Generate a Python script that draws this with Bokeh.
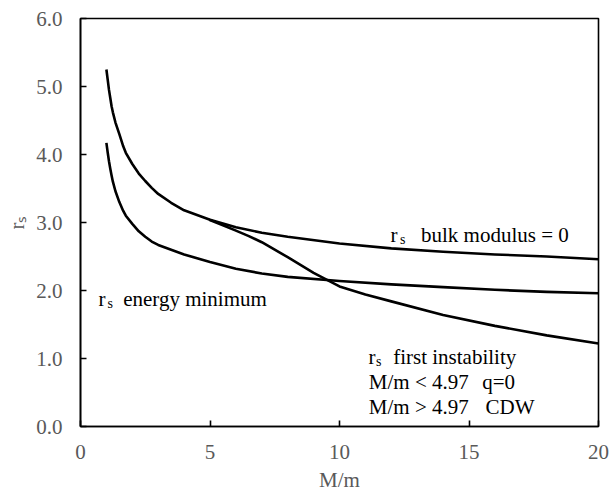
from bokeh.plotting import figure
from bokeh.models import Label, FixedTicker, PrintfTickFormatter, Range1d
from bokeh.embed import file_html
from bokeh.resources import INLINE

# ---- data ----
x_bulk = [1, 1.05, 1.1, 1.15, 1.2, 1.25, 1.35, 1.5, 1.65, 1.75, 2, 2.25, 2.5, 2.75, 3, 3.5, 4, 5, 6, 7, 8, 10, 12, 14, 16, 18, 20]
rs_bulk = [5.25, 5.10, 4.95, 4.83, 4.71, 4.62, 4.47, 4.30, 4.12, 4.025, 3.86, 3.72, 3.61, 3.51, 3.42, 3.29, 3.18, 3.04, 2.93, 2.85, 2.79, 2.69, 2.62, 2.57, 2.53, 2.50, 2.46]

x_emin = [1, 1.05, 1.1, 1.15, 1.2, 1.25, 1.35, 1.5, 1.65, 1.75, 2, 2.25, 2.5, 2.75, 3, 3.5, 4, 5, 6, 7, 8, 10, 12, 14, 16, 18, 20]
rs_emin = [4.17, 4.03, 3.90, 3.79, 3.69, 3.60, 3.46, 3.30, 3.17, 3.10, 2.98, 2.87, 2.79, 2.72, 2.67, 2.60, 2.53, 2.42, 2.32, 2.25, 2.20, 2.14, 2.09, 2.05, 2.01, 1.98, 1.96]

x_inst = [4.97, 5.5, 6, 6.5, 7, 8, 9, 10, 11, 12, 14, 16, 18, 20]
rs_inst = [3.04, 2.96, 2.88, 2.80, 2.71, 2.49, 2.26, 2.06, 1.94, 1.84, 1.64, 1.48, 1.34, 1.22]

x_ticks = [0, 5, 10, 15, 20]
y_ticks = [0, 1, 2, 3, 4, 5, 6]

FONT = "Liberation Serif"
GRAY = "#595959"

p = figure(width=613, height=494, output_backend="svg", toolbar_location=None,
           x_range=Range1d(0, 20), y_range=Range1d(0, 6),
           min_border_left=80, min_border_right=15, min_border_top=18, min_border_bottom=68)
p.xgrid.visible = False
p.ygrid.visible = False
p.outline_line_color = "black"
p.outline_line_width = 1.6
p.background_fill_color = "white"
p.border_fill_color = "white"

for ax in (p.xaxis[0], p.yaxis[0]):
    ax.axis_line_color = "black"
    ax.axis_line_width = 1.6
    ax.major_tick_line_color = "black"
    ax.major_tick_line_width = 1.6
    ax.major_tick_in = 6
    ax.major_tick_out = 0
    ax.minor_tick_line_color = None
    ax.major_label_text_font = FONT
    ax.major_label_text_font_size = "21px"
    ax.major_label_text_color = GRAY
    ax.axis_label_text_font = FONT
    ax.axis_label_text_font_size = "21px"
    ax.axis_label_text_font_style = "normal"
    ax.axis_label_text_color = GRAY

p.xaxis[0].ticker = FixedTicker(ticks=x_ticks)
p.yaxis[0].ticker = FixedTicker(ticks=y_ticks)
p.yaxis[0].formatter = PrintfTickFormatter(format="%.1f")
p.xaxis[0].major_label_standoff = 18
p.yaxis[0].major_label_standoff = 18
p.xaxis[0].axis_label = "M/m"
p.xaxis[0].axis_label_standoff = 6
p.yaxis[0].axis_label = "r\u209b"
p.yaxis[0].axis_label_standoff = 4

for xs, ys in ((x_bulk, rs_bulk), (x_emin, rs_emin), (x_inst, rs_inst)):
    p.line(xs, ys, line_color="black", line_width=2.6, line_join="round")

def lab(x, y, t, size=21, color="black", align="left", font=FONT):
    p.add_layout(Label(x=x, y=y, text=t, text_font=font, text_font_size=f"{size}px",
                       text_color=color, text_align=align, text_baseline="alphabetic"))

# pixel -> data helpers (frame: x 80..598, y 18..426 on page)
def dx(px):
    return (px - 80) / 25.9
def dy(py):
    return (426 - py) / 68.0

# bulk modulus label
lab(dx(390), dy(234), "r")
lab(dx(399.5), dy(239), "s", size=14)
lab(dx(420.5), dy(234), "bulk modulus = 0")
# energy minimum label
lab(dx(98), dy(298), "r")
lab(dx(107), dy(303), "s", size=14)
lab(dx(122.7), dy(298), "energy minimum")
# first instability
lab(dx(368), dy(356.7), "r")
lab(dx(375.5), dy(361), "s", size=14)
lab(dx(392.7), dy(356.7), "first instability")
lab(dx(368.3), dy(381.7), "M/m < 4.97")
lab(dx(481.7), dy(381.7), "q=0")
lab(dx(368.3), dy(406.7), "M/m > 4.97")
lab(dx(485), dy(406.7), "CDW")

open("out.html", "w").write(file_html(p, INLINE))
